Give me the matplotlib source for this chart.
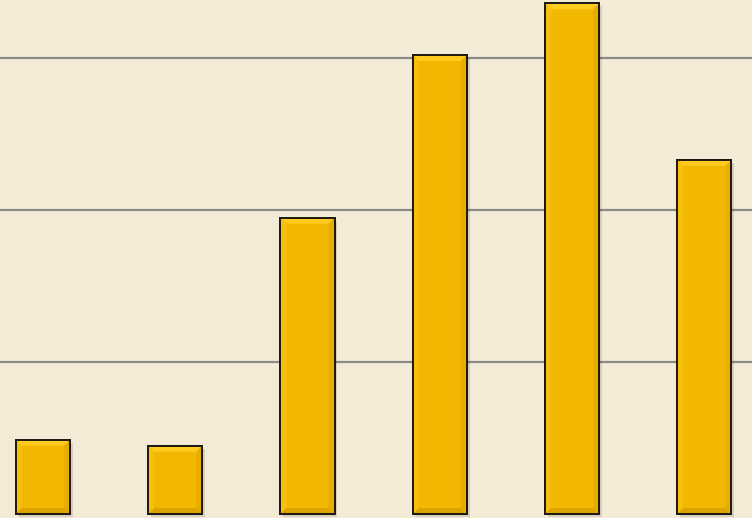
import matplotlib
matplotlib.use("Agg")
import matplotlib.pyplot as plt
from matplotlib.patches import Polygon

# Data (grid step = 1 unit)
categories = ["A", "B", "C", "D", "E", "F"]
values = [0.49, 0.45, 1.95, 3.02, 3.36, 2.33]
grid_levels = [1, 2, 3]

BG = "#f3ebd6"
FACE = "#f2b700"
EDGE = "#1c1a12"
BAR_W = 0.41

fig = plt.figure(figsize=(7.52, 5.18), dpi=100, facecolor=BG)
ax = fig.add_axes([0, 0, 1, 1])
ax.set_facecolor(BG)

x = list(range(len(categories)))
ax.set_xlim(-0.325, 5.36)
ax.set_ylim(-0.026, 3.382)

for g in grid_levels:
    ax.axhline(g, color="#8c8a84", lw=1.6, zorder=1)

# soft drop shadow
ax.bar([xi + 0.02 for xi in x], values, width=BAR_W, bottom=-0.02,
       color="black", alpha=0.12, zorder=2, linewidth=0)

bars = ax.bar(x, values, width=BAR_W, color=FACE, edgecolor=EDGE,
              linewidth=1.4, zorder=3)

# bevel edges, derived from each bar's extents
bx = 6 / 132.3
by = 6 / 152
for b in bars:
    x0, y0 = b.get_x(), b.get_y()
    x1, y1 = x0 + b.get_width(), y0 + b.get_height()
    sides = [
        ([(x0, y1), (x1, y1), (x1 - bx, y1 - by), (x0 + bx, y1 - by)], "#ffcb1e"),
        ([(x0, y0), (x0, y1), (x0 + bx, y1 - by), (x0 + bx, y0 + by)], "#f8c00c"),
        ([(x1, y0), (x1, y1), (x1 - bx, y1 - by), (x1 - bx, y0 + by)], "#e9ad00"),
        ([(x0, y0), (x1, y0), (x1 - bx, y0 + by), (x0 + bx, y0 + by)], "#dca400"),
    ]
    for pts, c in sides:
        ax.add_patch(Polygon(pts, closed=True, facecolor=c, edgecolor="none", zorder=3.5))
    ax.add_patch(plt.Rectangle((x0, y0), b.get_width(), b.get_height(), fill=False,
                               edgecolor=EDGE, linewidth=1.4, zorder=4))

ax.set_xticks([])
ax.set_yticks([])
for s in ax.spines.values():
    s.set_visible(False)

fig.savefig("out.png", dpi=100, facecolor=BG)
